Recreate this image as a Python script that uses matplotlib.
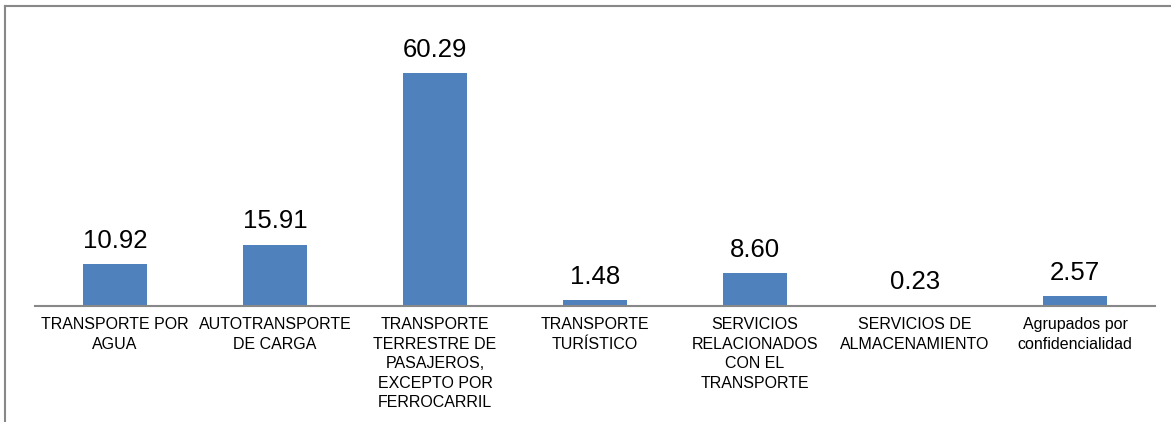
import matplotlib.pyplot as plt
from matplotlib.lines import Line2D

plt.rcParams['font.family'] = ['Liberation Sans', 'DejaVu Sans']

categorias = [
    "TRANSPORTE POR\nAGUA",
    "AUTOTRANSPORTE\nDE CARGA",
    "TRANSPORTE\nTERRESTRE DE\nPASAJEROS,\nEXCEPTO POR\nFERROCARRIL",
    "TRANSPORTE\nTURÍSTICO",
    "SERVICIOS\nRELACIONADOS\nCON EL\nTRANSPORTE",
    "SERVICIOS DE\nALMACENAMIENTO",
    "Agrupados por\nconfidencialidad",
]
valores = [10.92, 15.91, 60.29, 1.48, 8.60, 0.23, 2.57]

fig = plt.figure(figsize=(11.71, 4.22), dpi=100)
ax = fig.add_axes([0.0299, 0.2749, 0.9564, 0.641])

x = range(len(valores))
barras = ax.bar(x, valores, width=0.4, color='#4F81BD')
ax.set_xlim(-0.5, len(valores) - 0.5)
ax.set_ylim(0, 70)

for b, v in zip(barras, valores):
    ax.annotate(f"{v:.2f}", (b.get_x() + b.get_width() / 2, v),
                xytext=(0, 8), textcoords='offset points',
                ha='center', va='bottom', fontsize=18.5)

ax.set_xticks(list(x))
ax.set_xticklabels(categorias, fontsize=11.5, linespacing=1.38)
ax.tick_params(axis='x', length=0, pad=8)
ax.set_yticks([])
for s in ['top', 'right', 'left']:
    ax.spines[s].set_visible(False)
ax.spines['bottom'].set_color('#888888')
ax.spines['bottom'].set_linewidth(1.5)

# marco del grafico (solo arriba e izquierda)
fig.add_artist(Line2D([5.5 / 1171, 1.0], [1 - 5.5 / 422, 1 - 5.5 / 422],
                      transform=fig.transFigure, color='#888888', lw=1.5))
fig.add_artist(Line2D([5.5 / 1171, 5.5 / 1171], [0, 1 - 5.5 / 422],
                      transform=fig.transFigure, color='#888888', lw=1.5))

fig.savefig('out.png', dpi=100)
